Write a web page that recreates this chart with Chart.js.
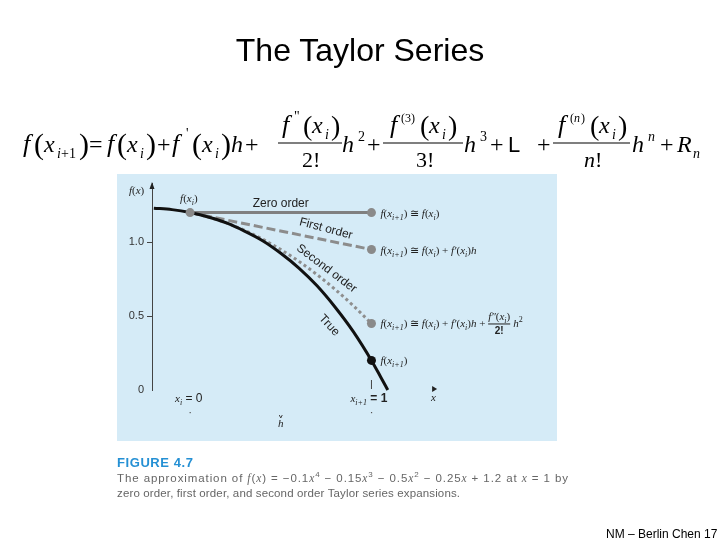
<!DOCTYPE html>
<html>
<head>
<meta charset="utf-8">
<script src="https://cdn.jsdelivr.net/npm/chart.js@4.4.0/dist/chart.umd.min.js"></script>
<style>
html, body { margin: 0; padding: 0; background: #fff; }
#wrap { position: relative; width: 720px; height: 540px; }
#c, #txt { position: absolute; left: 0; top: 0; }
#txt text { font-family: "Liberation Serif", "Times New Roman", serif; fill: #000; }
#txt .sans { font-family: "Liberation Sans", Arial, sans-serif; }
</style>
</head>
<body>
<div id="wrap">
  <canvas id="c" width="720" height="540"></canvas>
  <svg id="txt" width="720" height="540" xmlns="http://www.w3.org/2000/svg">
    <text class="sans" x="360" y="61" font-size="32" text-anchor="middle">The Taylor Series</text>
    <g id="eq"></g>
    <text class="sans" x="117" y="467" font-size="13" font-weight="bold" style="fill:#2590d4" textLength="76" lengthAdjust="spacing">FIGURE 4.7</text>
    <text class="sans" x="117" y="482" font-size="11.5" style="fill:#666" textLength="451" lengthAdjust="spacing">The approximation of <tspan font-family="Liberation Serif" font-style="italic">f</tspan>(<tspan font-family="Liberation Serif" font-style="italic">x</tspan>) = −0.1<tspan font-family="Liberation Serif" font-style="italic">x</tspan><tspan dy="-5" font-size="8">4</tspan><tspan dy="5"> − 0.15</tspan><tspan font-family="Liberation Serif" font-style="italic">x</tspan><tspan dy="-5" font-size="8">3</tspan><tspan dy="5"> − 0.5</tspan><tspan font-family="Liberation Serif" font-style="italic">x</tspan><tspan dy="-5" font-size="8">2</tspan><tspan dy="5"> − 0.25</tspan><tspan font-family="Liberation Serif" font-style="italic">x</tspan> + 1.2 at <tspan font-family="Liberation Serif" font-style="italic">x</tspan> = 1 by</text>
    <text class="sans" x="117" y="497" font-size="11.5" style="fill:#666" textLength="343" lengthAdjust="spacing">zero order, first order, and second order Taylor series expansions.</text>
    <text class="sans" x="606" y="538" font-size="12">NM – Berlin Chen 17</text>
  </svg>
</div>
<script>
(function() {
    "use strict";

    // values
    var trueX = [-0.2, -0.1, 0, 0.1, 0.2, 0.3, 0.4, 0.5, 0.6, 0.7, 0.8, 0.9, 1.0, 1.05, 1.09];
    var trueY = [1.23, 1.22, 1.2, 1.17, 1.13, 1.075, 1.01, 0.925, 0.825, 0.705, 0.56, 0.395, 0.2, 0.09, 0];
    var orderX = [0, 1];
    var zeroY = [1.2, 1.2];
    var firstY = [1.2, 0.95];
    var secondX = [0, 0.1, 0.2, 0.3, 0.4, 0.5, 0.6, 0.7, 0.8, 0.9, 1.0];
    var secondY = [1.2, 1.17, 1.13, 1.08, 1.02, 0.95, 0.87, 0.78, 0.68, 0.57, 0.45];
    var greyDotX = [0, 1, 1, 1];
    var greyDotY = [1.2, 1.2, 0.95, 0.45];
    var blackDotX = [1];
    var blackDotY = [0.2];
    var yTicks = [0, 0.5, 1.0];

    var SERIF = '"Liberation Serif", "Times New Roman", serif';
    var SANS = '"Liberation Sans", Arial, sans-serif';

    function pts(xs, ys) {
        return xs.map(function(x, i) { return { x: x, y: ys[i] }; });
    }

    // equation above the panel
    var B = 152, N = 133, D = 167;
    var eqParts = [
        ["f", 23, B, 26, 1], ["(", 34, B + 2, 30, 0], ["x", 44, B, 24, 1],
        ["i", 57, B + 6, 14, 1], ["+1", 61, B + 6, 14, 0], [")", 79, B + 2, 30, 0],
        ["=", 89, B, 24, 0],
        ["f", 107, B, 26, 1], ["(", 117, B + 2, 30, 0], ["x", 127, B, 24, 1],
        ["i", 140, B + 6, 14, 1], [")", 146, B + 2, 30, 0],
        ["+", 157, B, 24, 0],
        ["f", 172, B, 26, 1], ["'", 186, B - 14, 14, 0], ["(", 192, B + 2, 30, 0],
        ["x", 202, B, 24, 1], ["i", 215, B + 6, 14, 1], [")", 221, B + 2, 30, 0],
        ["h", 231, B, 24, 1],
        ["+", 245, B, 24, 0],
        ["f", 282, N, 26, 1], ["\"", 294, N - 12, 14, 0], ["(", 303, N + 2, 28, 0],
        ["x", 312, N, 24, 1], ["i", 325, N + 6, 14, 1], [")", 331, N + 2, 28, 0],
        ["2!", 302, D, 22, 0],
        ["h", 342, B, 24, 1], ["2", 358, B - 11, 14, 0],
        ["+", 367, B, 24, 0],
        ["f", 390, N, 26, 1], ["(3)", 401, N - 11, 12, 0], ["(", 420, N + 2, 28, 0],
        ["x", 429, N, 24, 1], ["i", 442, N + 6, 14, 1], [")", 448, N + 2, 28, 0],
        ["3!", 416, D, 22, 0],
        ["h", 464, B, 24, 1], ["3", 480, B - 11, 14, 0],
        ["+", 490, B, 24, 0], ["L", 508, B, 22, 2],
        ["+", 537, B, 24, 0],
        ["f", 558, N, 26, 1], ["(", 570, N - 11, 12, 0], ["n", 574, N - 11, 12, 1], [")", 581, N - 11, 12, 0],
        ["(", 590, N + 2, 28, 0], ["x", 599, N, 24, 1], ["i", 612, N + 6, 14, 1], [")", 618, N + 2, 28, 0],
        ["n", 584, D, 22, 1], ["!", 595, D, 22, 0],
        ["h", 632, B, 24, 1], ["n", 648, B - 11, 14, 1],
        ["+", 660, B, 24, 0],
        ["R", 677, B, 24, 1], ["n", 693, B + 6, 14, 1]
    ];
    var eqBars = [[278, 342], [383, 463], [553, 630]];
    var NS = "http://www.w3.org/2000/svg";
    var eq = document.getElementById("eq");
    eqParts.forEach(function(p) {
        var t = document.createElementNS(NS, "text");
        t.setAttribute("x", p[1]);
        t.setAttribute("y", p[2]);
        t.setAttribute("font-size", p[3]);
        if (p[4] === 1) t.setAttribute("font-style", "italic");
        if (p[4] === 2) t.setAttribute("class", "sans");
        t.textContent = p[0];
        eq.appendChild(t);
    });
    eqBars.forEach(function(b) {
        var l = document.createElementNS(NS, "line");
        l.setAttribute("x1", b[0]);
        l.setAttribute("x2", b[1]);
        l.setAttribute("y1", 143);
        l.setAttribute("y2", 143);
        l.setAttribute("stroke", "#000");
        l.setAttribute("stroke-width", "1.2");
        eq.appendChild(l);
    });

    function rich(ctx, x, y, parts) {
        parts.forEach(function(p) {
            var size = p.s || 11;
            ctx.font = (p.i ? "italic " : "") + (p.b ? "bold " : "") + size + "px " + (p.sans ? SANS : SERIF);
            ctx.fillText(p.t, x, y + (p.dy || 0));
            x += ctx.measureText(p.t).width;
        });
        return x;
    }
    function sub(t) { return { t: t, s: 8, dy: 3, i: 1 }; }
    function it(t) { return { t: t, i: 1 }; }
    function rm(t) { return { t: t }; }

    var fxi1 = [it("f"), rm("("), it("x"), sub("i+1"), rm(")")];
    var fxi = [it("f"), rm("("), it("x"), sub("i"), rm(")")];
    var approx = [rm(" \u2245 ")];
    var plusFp = [rm(" + "), it("f\u2032"), rm("("), it("x"), sub("i"), rm(")"), it("h")];

    var panelPlugin = {
        id: "panel",
        beforeDraw: function(chart) {
            var ctx = chart.ctx;
            ctx.save();
            ctx.fillStyle = "#d5ebf7";
            ctx.fillRect(117, 174, 440, 267);
            ctx.restore();
        },
        afterDraw: function(chart) {
            var ctx = chart.ctx;
            var xs = chart.scales.x, ys = chart.scales.y;
            var area = chart.chartArea;
            function px(v) { return xs.getPixelForValue(v); }
            function py(v) { return ys.getPixelForValue(v); }

            ctx.save();
            ctx.fillStyle = "#222";
            ctx.strokeStyle = "#444";

            // y axis arrow and label
            ctx.beginPath();
            ctx.moveTo(area.left, area.top - 1);
            ctx.lineTo(area.left - 2.5, area.top + 6);
            ctx.lineTo(area.left + 2.5, area.top + 6);
            ctx.closePath();
            ctx.fill();
            ctx.textBaseline = "alphabetic";
            rich(ctx, area.left - 23, area.top + 11, [it("f"), rm("("), it("x"), rm(")")]);

            // x axis arrow and label
            var ax = px(1.34);
            ctx.beginPath();
            ctx.moveTo(ax + 4, py(0) - 1);
            ctx.lineTo(ax - 1, py(0) - 4);
            ctx.lineTo(ax - 1, py(0) + 2);
            ctx.closePath();
            ctx.fill();
            rich(ctx, ax - 2, py(0) + 11, [it("x")]);

            // f(x_i) above the start point
            rich(ctx, px(0) - 10, py(1.2) - 11, fxi);

            // curve names
            ctx.font = "12px " + SANS;
            ctx.textAlign = "center";
            ctx.fillText("Zero order", px(0.5), py(1.2) - 6);
            var named = [["First order", 0.75, 1.095, 15], ["Second order", 0.755, 0.825, 37], ["True", 0.77, 0.44, 47]];
            named.forEach(function(n) {
                ctx.save();
                ctx.translate(px(n[1]), py(n[2]));
                ctx.rotate(n[3] * Math.PI / 180);
                ctx.fillText(n[0], 0, 4);
                ctx.restore();
            });
            ctx.textAlign = "left";

            // right-hand formulas
            var lx = px(1) + 9;
            rich(ctx, lx, py(1.2) + 4, fxi1.concat(approx, fxi));
            rich(ctx, lx, py(0.95) + 4, fxi1.concat(approx, fxi, plusFp));
            var fx = rich(ctx, lx, py(0.45) + 4, fxi1.concat(approx, fxi, plusFp, [rm(" + ")]));
            var yb = py(0.45);
            var nx = rich(ctx, fx, yb - 3, [it("f\u2033"), rm("("), it("x"), sub("i"), rm(")")]);
            ctx.fillRect(fx, yb, nx - fx, 1);
            ctx.font = "bold 10px " + SANS;
            ctx.textAlign = "center";
            ctx.fillText("2!", (fx + nx) / 2, yb + 11);
            ctx.textAlign = "left";
            rich(ctx, nx + 3, yb + 4, [it("h"), { t: "2", s: 8, dy: -5 }]);
            rich(ctx, lx, py(0.2) + 4, fxi1);

            // x labels under the axis
            var by = py(0) + 12;
            var e0 = rich(ctx, px(0) - 15, by, [it("x"), sub("i")]);
            ctx.font = "12px " + SANS;
            ctx.fillText(" = 0", e0, by);
            var e1 = rich(ctx, px(1) - 21, by, [it("x"), sub("i+1")]);
            ctx.font = "bold 12px " + SANS;
            ctx.fillText(" = 1", e1, by);

            // tick over x = 1
            ctx.lineWidth = 1;
            ctx.beginPath();
            ctx.moveTo(px(1), py(0) - 10);
            ctx.lineTo(px(1), py(0) - 1);
            ctx.stroke();

            // h marks
            ctx.fillStyle = "#555";
            ctx.fillRect(px(0) - 0.5, py(0) + 22, 1.2, 1.2);
            ctx.fillRect(px(1) - 0.5, py(0) + 22, 1.2, 1.2);
            var hx = (px(0) + px(1)) / 2;
            ctx.beginPath();
            ctx.moveTo(hx - 1.5, py(0) + 25);
            ctx.lineTo(hx, py(0) + 28);
            ctx.lineTo(hx + 1.5, py(0) + 25);
            ctx.stroke();
            ctx.fillStyle = "#222";
            ctx.textAlign = "center";
            ctx.font = "italic 11px " + SERIF;
            ctx.fillText("h", hx, py(0) + 37);
            ctx.restore();
        }
    };

    var chart = new Chart(document.getElementById("c"), {
        type: "scatter",
        data: {
            datasets: [
                {
                    data: pts(blackDotX, blackDotY),
                    pointRadius: 4.5,
                    pointBackgroundColor: "#111",
                    pointBorderWidth: 0,
                    showLine: false,
                    clip: false
                },
                {
                    data: pts(greyDotX, greyDotY),
                    pointRadius: 4.5,
                    pointBackgroundColor: "#8a8a8a",
                    pointBorderWidth: 0,
                    showLine: false,
                    clip: false
                },
                {
                    data: pts(trueX, trueY),
                    showLine: true,
                    borderColor: "#111",
                    borderWidth: 3,
                    pointRadius: 0,
                    cubicInterpolationMode: "monotone",
                    clip: false
                },
                {
                    data: pts(secondX, secondY),
                    showLine: true,
                    borderColor: "#8e8e8e",
                    borderWidth: 3,
                    borderDash: [3, 3],
                    pointRadius: 0,
                    cubicInterpolationMode: "monotone",
                    clip: false
                },
                {
                    data: pts(orderX, firstY),
                    showLine: true,
                    borderColor: "#8c8c8c",
                    borderWidth: 3,
                    borderDash: [9, 4],
                    pointRadius: 0,
                    clip: false
                },
                {
                    data: pts(orderX, zeroY),
                    showLine: true,
                    borderColor: "#808080",
                    borderWidth: 3,
                    pointRadius: 0,
                    clip: false
                }
            ]
        },
        options: {
            responsive: false,
            animation: false,
            devicePixelRatio: 1,
            layout: { padding: { left: 117, right: 276, top: 183, bottom: 150 } },
            plugins: { legend: { display: false }, tooltip: { enabled: false } },
            scales: {
                x: { type: "linear", min: -0.21, max: 1.4, display: false },
                y: {
                    min: 0,
                    max: 1.4,
                    afterFit: function(s) { s.width = 35; },
                    afterBuildTicks: function(s) {
                        s.ticks = yTicks.map(function(v) { return { value: v }; });
                    },
                    ticks: {
                        callback: function(v) { return v === 0 ? "0" : v.toFixed(1); },
                        font: { family: SANS, size: 11 },
                        color: "#333",
                        padding: 3
                    },
                    grid: {
                        drawOnChartArea: false,
                        drawTicks: true,
                        tickLength: 5,
                        color: function(c) { return c.tick && c.tick.value === 0 ? "rgba(0,0,0,0)" : "#444"; }
                    },
                    border: { display: true, color: "#444", width: 1 }
                }
            }
        },
        plugins: [panelPlugin]
    });
})();
</script>
</body>
</html>
